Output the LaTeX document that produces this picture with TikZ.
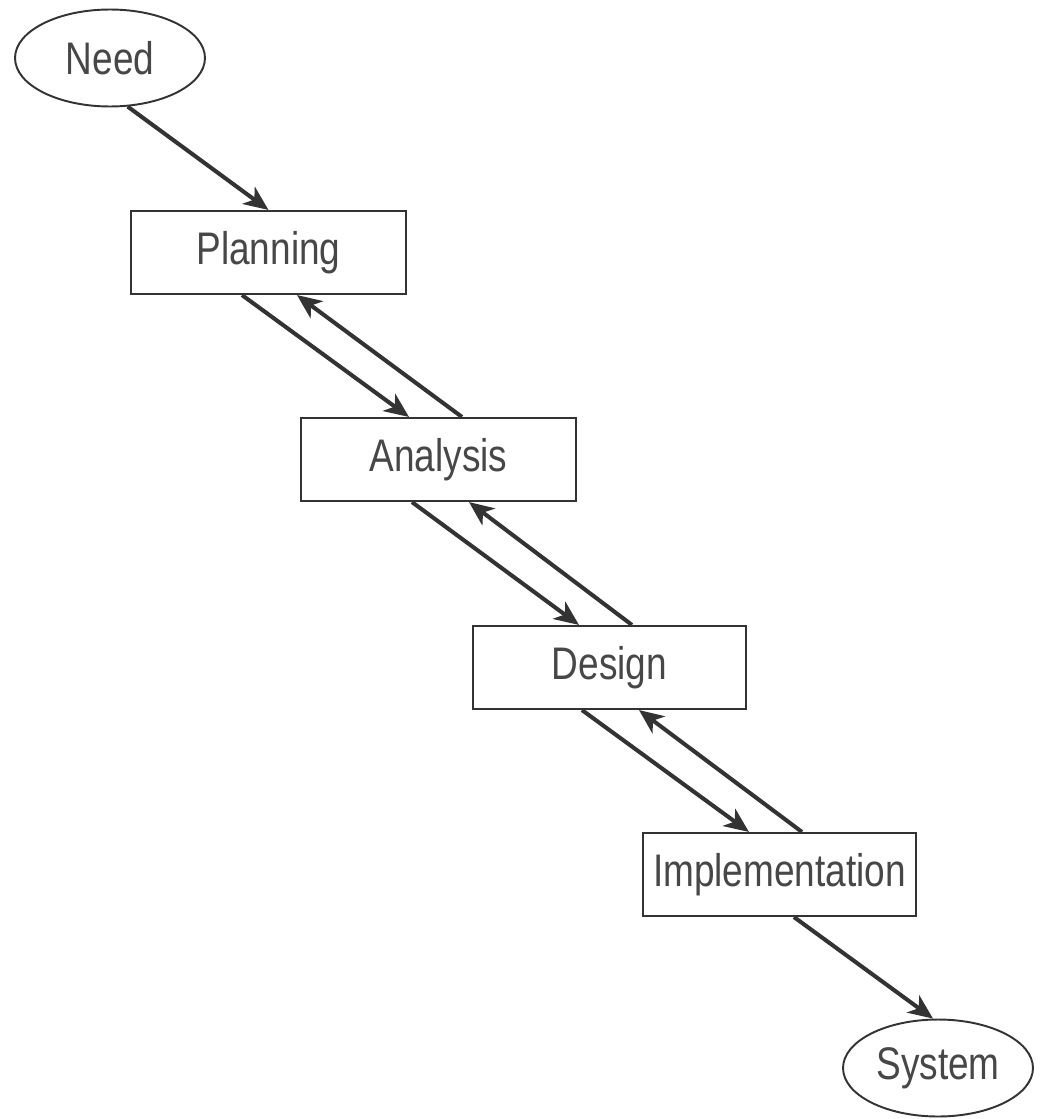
\documentclass[tikz,border=0pt]{standalone}
\usepackage{fontspec}
\setmainfont{Liberation Sans}[FakeStretch=0.81]
\usetikzlibrary{arrows.meta,shapes.geometric}
\definecolor{ink}{HTML}{333333}
\begin{document}
\begin{tikzpicture}[x=0.02cm,y=-0.02cm,
  lbl/.style={font=\fontsize{26}{30}\selectfont, text=ink!90!white},
  stagebox/.style={lbl, draw=ink, line width=1.2pt, rectangle, minimum height=1.66cm, inner sep=0pt},
  endpoint/.style={lbl, draw=ink, line width=1.1pt, ellipse, minimum width=3.8cm, minimum height=1.94cm, inner sep=0pt},
  flow/.style={draw=ink, line width=2.3pt, -{Stealth[length=14pt,width=12pt,inset=4pt]}}
]
\useasboundingbox (0,0) rectangle (1041,1119);
\node[endpoint] (need) at (110,58) {Need};
\node[stagebox, minimum width=5.5cm] (plan) at (268.5,252.5) {Planning};
\node[stagebox, minimum width=5.5cm] (anal) at (438.5,459.5) {Analysis};
\node[stagebox, minimum width=5.46cm] (des) at (609.5,667.5) {Design};
\node[stagebox, minimum width=5.46cm] (impl) at (779.5,874.5) {Implementation};
\node[endpoint] (sys) at (938,1068) {System};

\draw[flow] (need.-70) -- (plan.north);
\draw[flow] ([xshift=112*0.02cm]plan.south west) -- ([xshift=109*0.02cm]anal.north west);
\draw[flow] ([xshift=162*0.02cm]anal.north west) -- ([xshift=167*0.02cm]plan.south west);
\draw[flow] ([xshift=112*0.02cm]anal.south west) -- ([xshift=107*0.02cm]des.north west);
\draw[flow] ([xshift=160*0.02cm]des.north west) -- ([xshift=169*0.02cm]anal.south west);
\draw[flow] ([xshift=110*0.02cm]des.south west) -- ([xshift=107*0.02cm]impl.north west);
\draw[flow] ([xshift=160*0.02cm]impl.north west) -- ([xshift=167*0.02cm]des.south west);
\draw[flow] ([xshift=152*0.02cm]impl.south west) -- ([xshift=-5*0.02cm]sys.north);
\end{tikzpicture}
\end{document}
